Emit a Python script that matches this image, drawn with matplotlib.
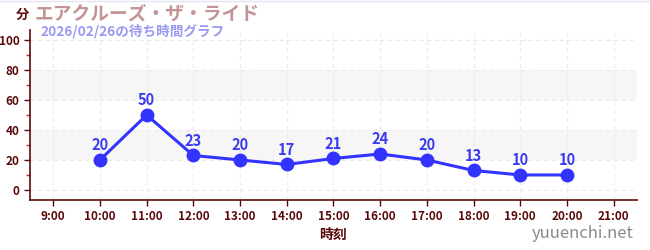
import matplotlib
matplotlib.use("Agg")
import matplotlib.pyplot as plt
from matplotlib.lines import Line2D

plt.rcParams['font.family'] = ['Noto Sans CJK JP', 'DejaVu Sans']

hours = [10, 11, 12, 13, 14, 15, 16, 17, 18, 19, 20]
waits = [20, 50, 23, 20, 17, 21, 24, 20, 13, 10, 10]
tick_hours = list(range(9, 22))
tick_labels = [f"{h}:00" for h in tick_hours]
title = "エアクルーズ・ザ・ライド"
subtitle = "2026/02/26の待ち時間グラフ"

dark = '#5a0a0a'
fig = plt.figure(figsize=(6.5, 2.5), dpi=100)
ax = fig.add_axes([0.046, 0.2, 0.934, 0.68])
ax.set_xlim(8.5, 21.5)
ax.set_ylim(-6.7, 106.7)

for lo, hi in [(20, 40), (60, 80)]:
    ax.axhspan(lo, hi, color='#f6f6f6', zorder=0, lw=0)

ax.set_xticks(tick_hours)
ax.set_xticklabels(tick_labels)
ax.set_yticks([0, 20, 40, 60, 80, 100])
ax.set_yticks([10, 30, 50, 70, 90], minor=True)
ax.grid(True, which='major', color='#ebebeb', ls=(0, (4, 3)), lw=0.8, zorder=0)
ax.tick_params(axis='both', which='major', colors=dark, labelsize=8.5, length=4, width=1)
ax.tick_params(axis='y', which='minor', colors='#dd2222', length=3, width=1)
for lab in ax.get_xticklabels() + ax.get_yticklabels():
    lab.set_fontweight('bold')
    lab.set_color(dark)

for s in ['top', 'right']:
    ax.spines[s].set_visible(False)
for s in ['left', 'bottom']:
    ax.spines[s].set_color(dark)
    ax.spines[s].set_linewidth(1.2)

ax.plot(hours, waits, color='#3333ff', lw=2.2, marker='o', ms=9, zorder=3)
for h, w in zip(hours, waits):
    ax.annotate(str(w), (h, w), xytext=(0, 5), textcoords='offset points',
                ha='center', va='bottom', fontsize=10.5, fontweight='bold', color='#3a3aee')

ax.set_xlabel("時刻", color=dark, fontsize=10, fontweight='bold', labelpad=3)

fig.add_artist(Line2D([0, 1], [0.998, 0.998], color='#e4e4f6', lw=1, transform=fig.transFigure))
fig.text(22/650, 1-15/250, "分", color=dark, fontsize=9.5, fontweight='bold', ha='center', va='center')
fig.text(35/650, 1-14/250, title, color='#c49494', fontsize=13.5, fontweight='bold', ha='left', va='center')
fig.text(40/650, 1-31/250, subtitle, color='#9a9af0', fontsize=9.8, fontweight='bold', ha='left', va='center')
fig.text(634/650, 1-234/250, "yuuenchi.net", color='#8a8a8a', fontsize=12, ha='right', va='center')

fig.savefig("out.png", dpi=100)
